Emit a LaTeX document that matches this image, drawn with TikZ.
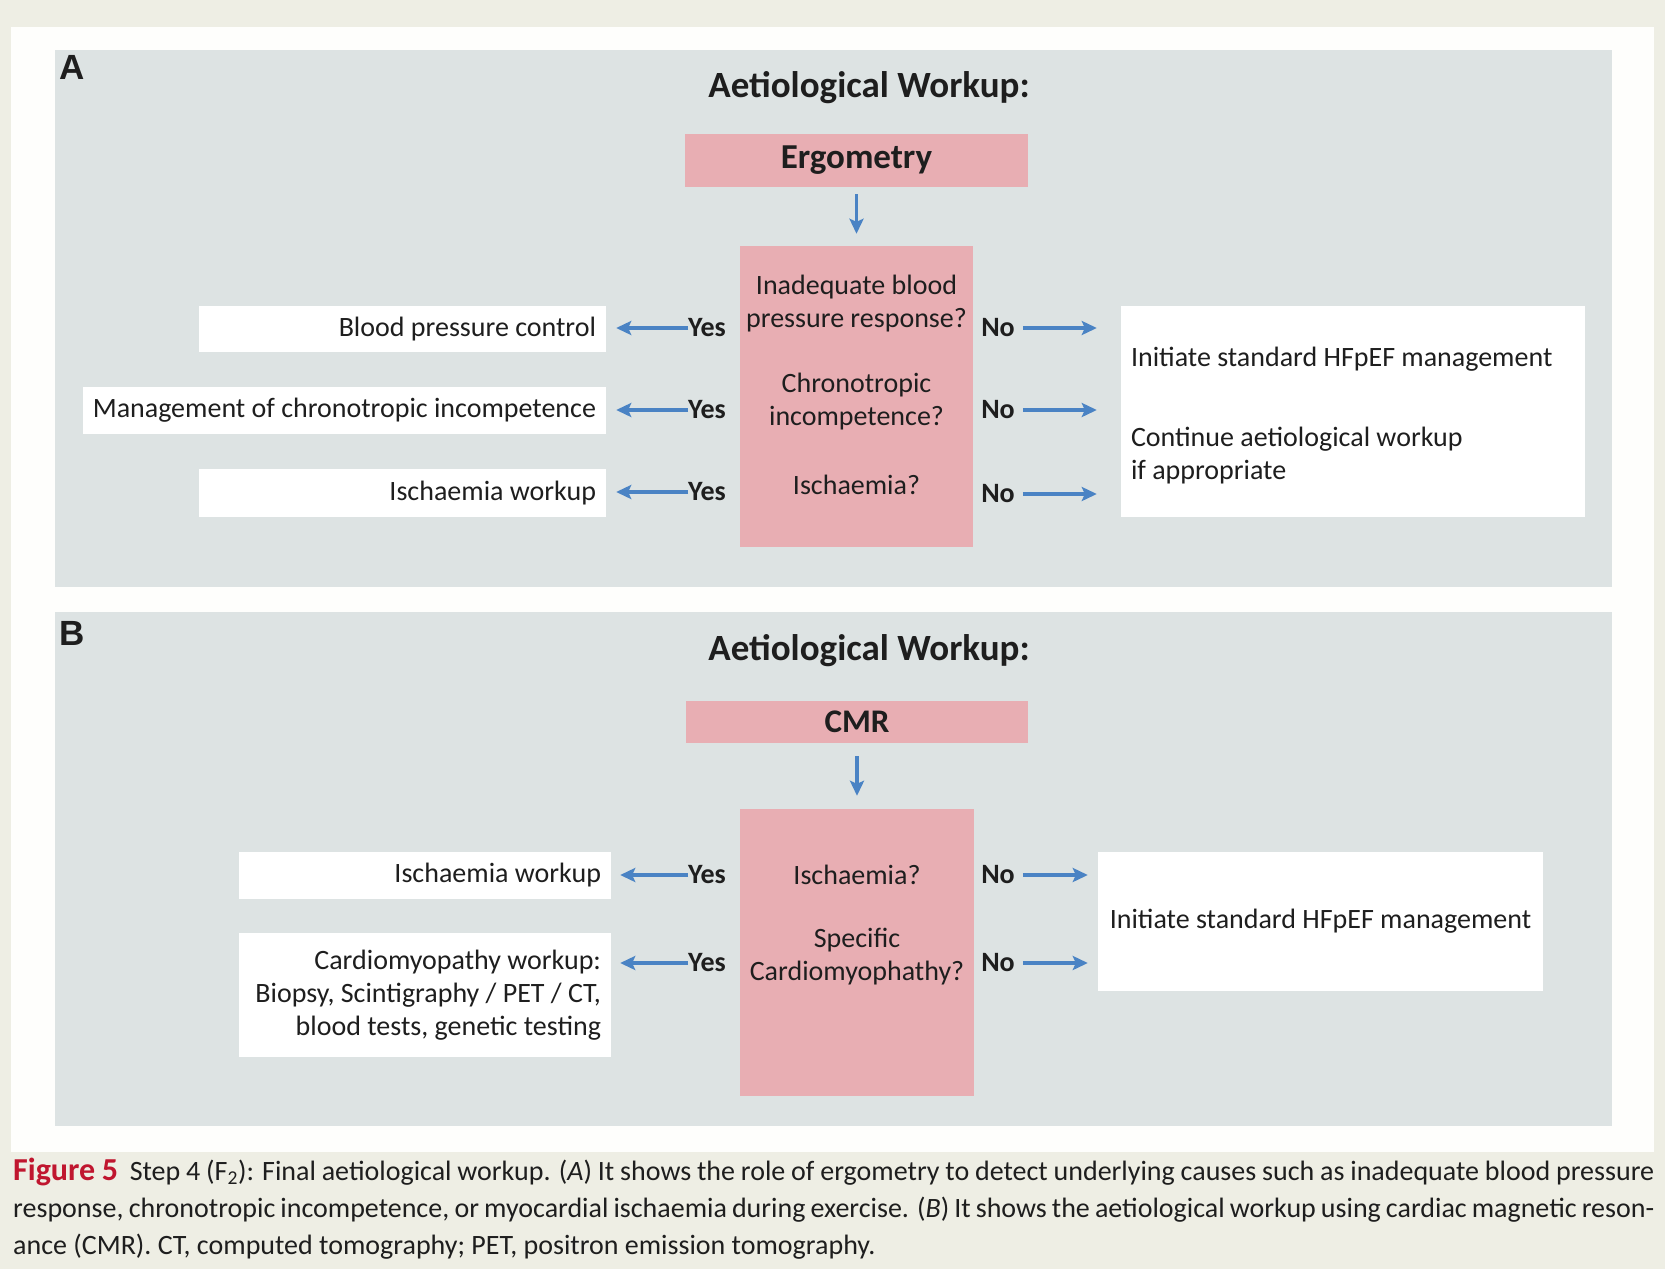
\documentclass[tikz,border=0pt]{standalone}
\usepackage{fontspec}
\setmainfont{Carlito}
\newfontfamily\capfont{Carlito}
\newfontfamily\panelfont{Liberation Sans}
\usetikzlibrary{arrows.meta}

\definecolor{pagebg}{HTML}{EEEEE4}
\definecolor{sheet}{HTML}{FEFEFC}
\definecolor{panelgray}{HTML}{DDE3E3}
\definecolor{pinkc}{HTML}{E8AEB3}
\definecolor{flowblue}{HTML}{4A83C4}
\definecolor{ink}{HTML}{1E1E1E}
\definecolor{figred}{HTML}{C0162F}

\tikzset{
  panel/.style={fill=panelgray, draw=none, inner sep=0pt},
  pinkbox/.style={fill=pinkc, draw=none, inner sep=0pt},
  whitebox/.style={fill=white, draw=none, inner sep=0pt},
  txt/.style={text=ink, inner sep=0pt, font=\fontsize{28}{33}\selectfont, align=center},
  ttl/.style={text=ink, inner sep=0pt, font=\fontsize{37}{42}\selectfont\bfseries},
  yn/.style={text=ink, inner sep=0pt, font=\fontsize{28}{33}\selectfont\bfseries},
  letter/.style={text=ink, inner sep=0pt, font=\panelfont\fontsize{35}{40}\selectfont\bfseries},
  flow/.style={draw=flowblue, line width=3.2pt, -{Stealth[length=15pt,width=14pt,inset=3pt]}},
  captxt/.style={text=ink, inner sep=0pt, anchor=west, font=\capfont\fontsize{28}{37}\selectfont},
}

\begin{document}
\begin{tikzpicture}[x=1pt,y=-1pt]
\useasboundingbox (0,0) rectangle (1665,1269);
\fill[pagebg] (0,0) rectangle (1665,1269);
\fill[sheet] (11,27) rectangle (1654,1152);

% ---------------- Panel A: ergometry ----------------
\node[panel, minimum width=1557pt, minimum height=537pt] (panelA) at (833.5,318.5) {};
\node[letter] (labA) at (72,67) {A};
\node[ttl] (titleA) at (869,88) {Aetiological Workup:};
\node[pinkbox, minimum width=343pt, minimum height=53pt, font=\fontsize{35}{40}\selectfont\bfseries, text=ink] (ergo) at (856.5,160.5) {Ergometry};
\node[pinkbox, minimum width=233pt, minimum height=301pt] (qA) at (856.5,396.5) {};
\node[txt] (qA1) at (856.5,303.5) {Inadequate blood\\pressure response?};
\node[txt] (qA2) at (856.5,401.5) {Chronotropic\\incompetence?};
\node[txt] (qA3) at (856.5,485) {Ischaemia?};

\node[whitebox, minimum width=407pt, minimum height=46pt] (bpc) at (402.5,329) {};
\node[whitebox, minimum width=523pt, minimum height=47pt] (mci) at (344.5,410.5) {};
\node[whitebox, minimum width=407pt, minimum height=48pt] (iwA) at (402.5,493) {};
\node[txt, anchor=east] (bpct) at ([xshift=-10pt]bpc.east) {Blood pressure control};
\node[txt, anchor=east] (mcit) at ([xshift=-10pt]mci.east) {Management of chronotropic incompetence};
\node[txt, anchor=east] (iwAt) at ([xshift=-10pt]iwA.east) {Ischaemia workup};

\node[whitebox, minimum width=464pt, minimum height=211pt] (stdA) at (1353,411.5) {};
\node[txt, anchor=west] (stdA1) at ([xshift=10pt]stdA.west |- 0,359) {Initiate standard HFpEF management};
\node[txt, anchor=west, align=left] (stdA2) at ([xshift=10pt]stdA.west |- 0,456) {Continue aetiological workup\\if appropriate};

\node[yn] (yA1) at (707,328) {Yes};
\node[yn] (yA2) at (707,410) {Yes};
\node[yn] (yA3) at (707,492) {Yes};
\node[yn] (nA1) at (998,328) {No};
\node[yn] (nA2) at (998,410) {No};
\node[yn] (nA3) at (998,494) {No};

\draw[flow, shorten <=7pt, shorten >=12pt] (ergo.south) -- (qA.north);
\draw[flow, shorten >=10pt] (yA1.west) -- (yA1.west -| bpc.east);
\draw[flow, shorten >=10pt] (yA2.west) -- (yA2.west -| mci.east);
\draw[flow, shorten >=10pt] (yA3.west) -- (yA3.west -| iwA.east);
\draw[flow, shorten <=8pt, shorten >=24pt] (nA1.east) -- (nA1.east -| stdA.west);
\draw[flow, shorten <=8pt, shorten >=24pt] (nA2.east) -- (nA2.east -| stdA.west);
\draw[flow, shorten <=8pt, shorten >=24pt] (nA3.east) -- (nA3.east -| stdA.west);

% ---------------- Panel B: CMR ----------------
\node[panel, minimum width=1557pt, minimum height=514pt] (panelB) at (833.5,869) {};
\node[letter] (labB) at (72,633) {B};
\node[ttl] (titleB) at (869,651) {Aetiological Workup:};
\node[pinkbox, minimum width=342pt, minimum height=42pt, font=\fontsize{33}{38}\selectfont\bfseries, text=ink] (cmr) at (857,722) {CMR};
\node[pinkbox, minimum width=234pt, minimum height=287pt] (qB) at (857,952.5) {};
\node[txt] (qB1) at (857,875) {Ischaemia?};
\node[txt] (qB2) at (857,957) {Specific\\Cardiomyophathy?};

\node[whitebox, minimum width=372pt, minimum height=47pt] (iwB) at (425,875.5) {};
\node[whitebox, minimum width=372pt, minimum height=124pt] (cmw) at (425,995) {};
\node[txt, anchor=east] (iwBt) at ([xshift=-10pt]iwB.east) {Ischaemia workup};
\node[txt, anchor=east, align=right] (cmwt) at ([xshift=-10pt]cmw.east) {Cardiomyopathy workup:\\Biopsy, Scintigraphy / PET / CT,\\blood tests, genetic testing};

\node[whitebox, minimum width=445pt, minimum height=139pt] (stdB) at (1320.5,921.5) {};
\node[txt] (stdBt) at (stdB.center) {Initiate standard HFpEF management};

\node[yn] (yB1) at (707,875) {Yes};
\node[yn] (yB2) at (707,963) {Yes};
\node[yn] (nB1) at (998,875) {No};
\node[yn] (nB2) at (998,963) {No};

\draw[flow, shorten <=13pt, shorten >=13pt] (cmr.south) -- (qB.north);
\draw[flow, shorten >=9pt] (yB1.west) -- (yB1.west -| iwB.east);
\draw[flow, shorten >=9pt] (yB2.west) -- (yB2.west -| cmw.east);
\draw[flow, shorten <=8pt, shorten >=10pt] (nB1.east) -- (nB1.east -| stdB.west);
\draw[flow, shorten <=8pt, shorten >=10pt] (nB2.east) -- (nB2.east -| stdB.west);

% ---------------- Caption ----------------
\node[captxt] (cap1) at (13,1172) {\hbox to 1641pt{{\color{figred}\fontsize{32}{37}\selectfont\bfseries Figure 5}\ \ Step 4 (F\textsubscript{2}): Final aetiological workup. (\textit{A}) It shows the role of ergometry to detect underlying causes such as inadequate blood pressure}};
\node[captxt] (cap2) at (13,1210) {\hbox to 1641pt{response, chronotropic incompetence, or myocardial ischaemia during exercise. (\textit{B}) It shows the aetiological workup using cardiac magnetic reson-}};
\node[captxt] (cap3) at (13,1247) {ance (CMR). CT, computed tomography; PET, positron emission tomography.};
\end{tikzpicture}
\end{document}
